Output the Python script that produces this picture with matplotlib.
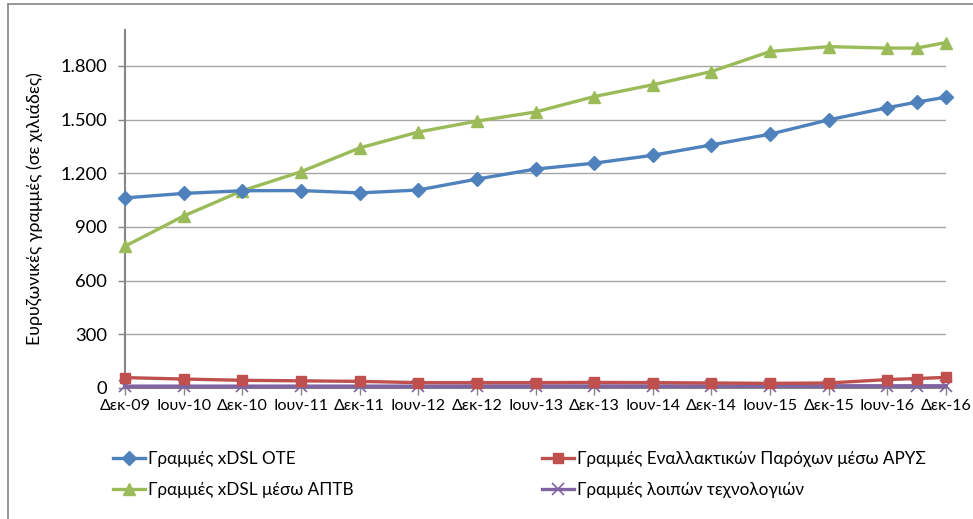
import matplotlib
matplotlib.use("Agg")
import matplotlib.pyplot as plt
from matplotlib.lines import Line2D
from matplotlib.ticker import FuncFormatter, FixedLocator

plt.rcParams['font.family'] = ['Lato', 'DejaVu Sans']

# month offsets from Dec-09
months = [0, 6, 12, 18, 24, 30, 36, 42, 48, 54, 60, 66, 72, 78, 81, 84]
tick_months = [0, 6, 12, 18, 24, 30, 36, 42, 48, 54, 60, 66, 72, 78, 84]
tick_labels = ["Δεκ-09", "Ιουν-10", "Δεκ-10", "Ιουν-11", "Δεκ-11", "Ιουν-12", "Δεκ-12",
               "Ιουν-13", "Δεκ-13", "Ιουν-14", "Δεκ-14", "Ιουν-15", "Δεκ-15", "Ιουν-16", "Δεκ-16"]

ote = [1062, 1087, 1102, 1103, 1090, 1106, 1167, 1223, 1256, 1300, 1358, 1418, 1498, 1566, 1597, 1625]
aptv = [792, 961, 1102, 1208, 1341, 1430, 1491, 1542, 1628, 1694, 1768, 1880, 1907, 1899, 1899, 1930]
arys = [58, 50, 43, 40, 37, 30, 30, 30, 31, 30, 28, 26, 28, 47, 53, 59]
other = [9, 9, 9, 9, 9, 9, 10, 10, 10, 10, 10, 11, 11, 11, 11, 11]

names = ["Γραμμές xDSL OTE", "Γραμμές Εναλλακτικών Παρόχων μέσω ΑΡΥΣ",
         "Γραμμές xDSL μέσω ΑΠΤΒ", "Γραμμές λοιπών τεχνολογιών"]

blue = "#4F81BD"
red = "#C0504D"
green = "#9BBB59"
purple = "#8064A2"

fig = plt.figure(figsize=(9.73, 5.19), dpi=100)
ax = fig.add_axes([125 / 973, 1 - 388 / 519, (946 - 125) / 973, (388 - 30) / 519])

lw = 2.4
ax.plot(months, other, color=purple, lw=2.8, marker='x', ms=8, mew=1.2, clip_on=False, zorder=3)
ax.plot(months, arys, color=red, lw=lw, marker='s', ms=7.5, clip_on=False, zorder=4)
ax.plot(months, aptv, color=green, lw=lw, marker='^', ms=9, clip_on=False, zorder=5)
ax.plot(months, ote, color=blue, lw=lw, marker='D', ms=7, clip_on=False, zorder=6)

ax.set_xlim(0, 84)
ax.set_ylim(0, 2000)
ax.yaxis.set_major_locator(FixedLocator([0, 300, 600, 900, 1200, 1500, 1800]))
ax.yaxis.set_major_formatter(FuncFormatter(lambda v, p: f"{int(v):,}".replace(",", ".")))
ax.set_xticks(tick_months)
ax.set_xticklabels(tick_labels)
ax.grid(axis='y', color='#A6A6A6', lw=1.0)
ax.set_axisbelow(True)
for s in ['top', 'right']:
    ax.spines[s].set_visible(False)
for s in ['left', 'bottom']:
    ax.spines[s].set_color('#868686')
    ax.spines[s].set_linewidth(1.5)
ax.tick_params(axis='both', colors='#868686', labelcolor='black', length=5, width=1)
ax.tick_params(axis='y', pad=8, labelsize=13.2)
ax.tick_params(axis='x', pad=3, labelsize=11.5)
ax.set_ylabel("Ευρυζωνικές γραμμές (σε χιλιάδες)", fontsize=12.8, labelpad=12)

handles = [Line2D([], [], color=blue, lw=lw, marker='D', ms=7),
           Line2D([], [], color=green, lw=lw, marker='^', ms=9),
           Line2D([], [], color=red, lw=lw, marker='s', ms=7.5),
           Line2D([], [], color=purple, lw=lw, marker='x', ms=8, mew=1.2)]
labels = [names[0], names[2], names[1], names[3]]
fig.legend(handles, labels, ncol=2, loc='upper left', bbox_to_anchor=(98 / 973, 1 - 436 / 519),
           frameon=False, fontsize=12.3, handlelength=1.85, handletextpad=0.2,
           columnspacing=11.0, labelspacing=0.85)

# chart border (top and left visible)
fig.add_artist(Line2D([8 / 973, 1], [1 - 4 / 519, 1 - 4 / 519], color='#868686', lw=1.2, transform=fig.transFigure))
fig.add_artist(Line2D([8 / 973, 8 / 973], [0, 1 - 4 / 519], color='#868686', lw=1.2, transform=fig.transFigure))

fig.savefig("out.png", dpi=100)
